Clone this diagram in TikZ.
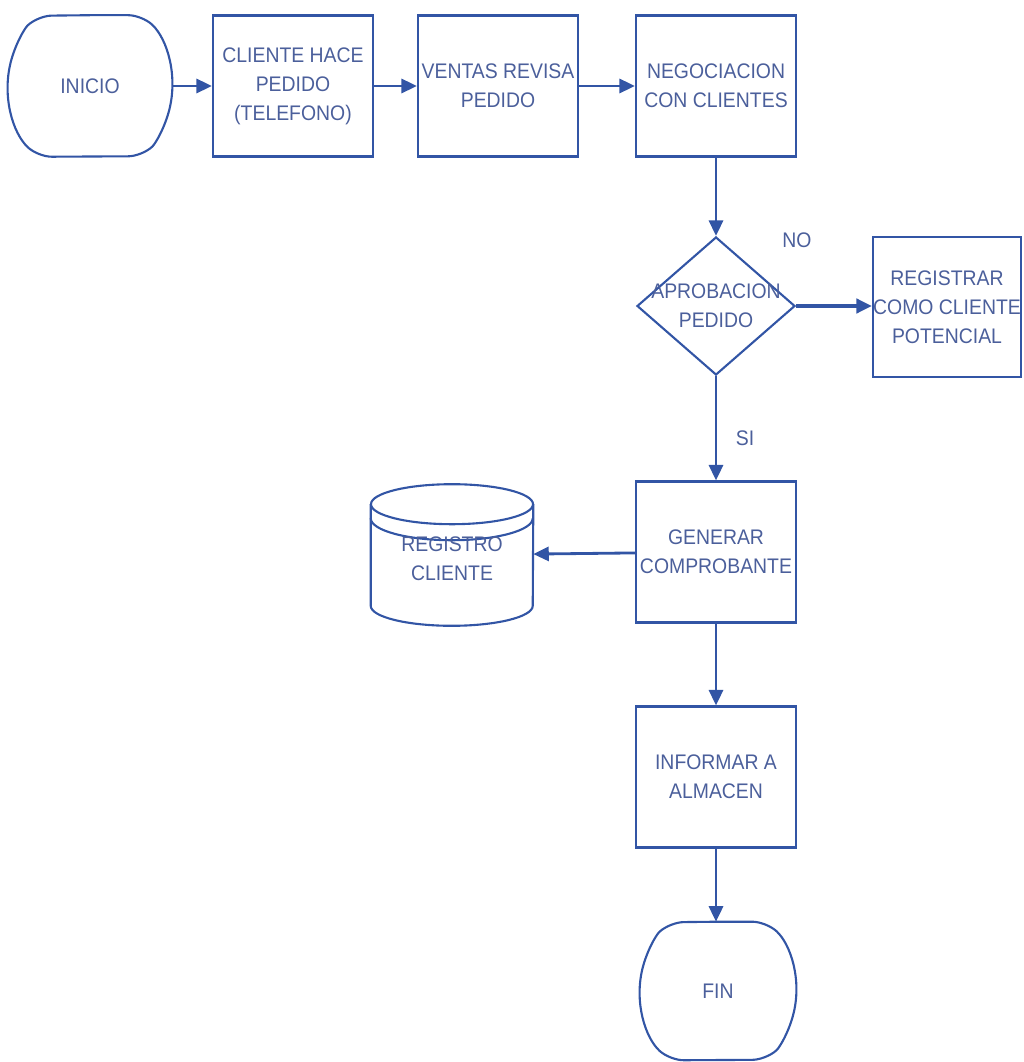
\documentclass[tikz,border=0pt]{standalone}
\usepackage{fontspec}
\setmainfont[FakeStretch=0.92]{Liberation Sans}
\usepackage{tikz}
\usetikzlibrary{arrows.meta,shapes.geometric}
\definecolor{flowblue}{RGB}{50,85,165}
\definecolor{flowtext}{RGB}{75,95,155}
\tikzstyle{process} = [rectangle, minimum width=4cm, minimum height=3.525cm, inner sep=0pt, text centered, align=center, draw=flowblue, line width=1.5pt, text=flowtext, font=\fontsize{15}{20.5}\selectfont]
\tikzstyle{terminal} = [rectangle, minimum width=4.1cm, minimum height=3.525cm, inner sep=0pt, text centered, text=flowtext, font=\fontsize{15}{20.5}\selectfont]
\tikzstyle{outline} = [draw=flowblue, line width=1.5pt]
\tikzstyle{decision} = [diamond, aspect=1.145, minimum width=3.95cm, minimum height=3.45cm, inner sep=0pt, draw=flowblue, line width=1.5pt]
\tikzstyle{label} = [text=flowtext, align=center, font=\fontsize{15}{20.5}\selectfont]
\tikzstyle{arrow} = [line width=2pt, draw=flowblue, -{Triangle[length=11pt,width=10pt]}, color=flowblue]

\begin{document}
\begin{tikzpicture}[x=0.025cm, y=-0.025cm]
\useasboundingbox (0,0) rectangle (1023,1062);

% Top row
\node[terminal] (inicio) at (90,86) {INICIO};
\draw[outline, rounded corners=0.35cm] (inicio.north) -- ([xshift=-0.75cm]inicio.north east)
  arc[start angle=46.1, end angle=-46.1, radius=2.446cm] -- ([xshift=0.75cm]inicio.south west)
  arc[start angle=226.1, end angle=133.9, radius=2.446cm] -- (inicio.north);
\node[process] (cliente) at (293,86) {CLIENTE HACE\\PEDIDO\\(TELEFONO)};
\node[process] (ventas) at (498,86) {VENTAS REVISA\\PEDIDO};
\node[process] (negoc) at (716,86) {NEGOCIACION\\CON CLIENTES};

% Decision
\node[decision] (aprob) at (716,306) {};
\node[label] (aprobtxt) at (aprob) {APROBACION\\PEDIDO};
\node[process, minimum width=3.7cm, minimum height=3.5cm] (potencial) at (947,307) {REGISTRAR\\COMO CLIENTE\\POTENCIAL};

% Lower column
\node[process] (generar) at (716,552) {GENERAR\\COMPROBANTE};
\node[process] (informar) at (716,777) {INFORMAR A\\ALMACEN};
\node[terminal, minimum width=3.9cm, minimum height=3.45cm] (fin) at (718,991) {FIN};
\draw[outline, rounded corners=0.35cm] (fin.north) -- ([xshift=-0.75cm]fin.north east)
  arc[start angle=47, end angle=-47, radius=2.359cm] -- ([xshift=0.75cm]fin.south west)
  arc[start angle=227, end angle=133, radius=2.359cm] -- (fin.north);

% Database
\node[minimum width=4.05cm, minimum height=3.525cm, inner sep=0pt] (registro) at (452,555) {};
\draw[outline]
  ([yshift=-0.5cm]registro.north) ellipse [x radius=2.025cm, y radius=0.5cm];
\draw[outline]
  ([yshift=-0.5cm]registro.north west) -- ([yshift=0.5cm]registro.south west)
  arc[start angle=180, end angle=360, x radius=2.025cm, y radius=0.5cm]
  -- ([yshift=-0.5cm]registro.north east);
\draw[outline]
  ([yshift=-0.85cm]registro.north west) arc[start angle=180, end angle=360, x radius=2.025cm, y radius=0.55cm];
\node[label] (registrotxt) at ([yshift=-0.1cm]registro.center) {REGISTRO\\CLIENTE};

% Arrows
\draw[arrow] (inicio) -- (cliente);
\draw[arrow] (cliente) -- (ventas);
\draw[arrow] (ventas) -- (negoc);
\draw[arrow] (negoc) -- (aprob);
\draw[arrow, line width=3pt] (aprob.east) -- (potencial.west |- aprob.east);
\draw[arrow] (aprob) -- (generar);
\draw[arrow] (generar) -- (registro);
\draw[arrow] (generar) -- (informar);
\draw[arrow] (informar.south) -- (informar.south |- fin.north);

% Labels on arrows
\node[label] (no) at (797,240) {NO};
\node[label] (si) at (745,438) {SI};
\end{tikzpicture}
\end{document}
